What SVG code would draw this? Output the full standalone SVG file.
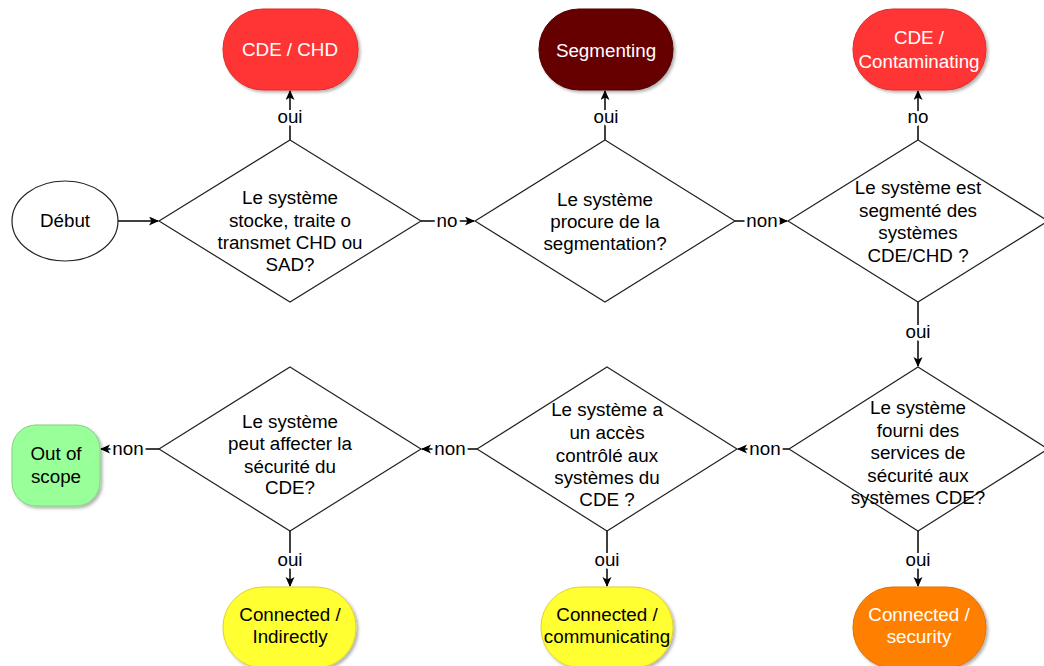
<svg xmlns="http://www.w3.org/2000/svg" width="1044" height="666" viewBox="0 0 1044 666">
<style>
text{font-family:"Liberation Sans",Arial,sans-serif;font-size:18.8px;text-anchor:middle;fill:#000}
.w{fill:#fff}
.dia{fill:#fff;stroke:#222;stroke-width:1.2}
.edge{fill:none;stroke:#000;stroke-width:1.5}
.lbl{stroke:#fff;stroke-width:6;paint-order:stroke;stroke-linejoin:round}
</style>
<defs>
<filter id="sh" x="-20%" y="-20%" width="140%" height="140%">
<feDropShadow dx="2" dy="2" stdDeviation="1.5" flood-color="#000" flood-opacity="0.3"/>
</filter>
<marker id="arr" markerWidth="11" markerHeight="10" refX="9" refY="4.5" orient="auto" markerUnits="userSpaceOnUse">
<path d="M0,0 L10,4.5 L0,9 L2.5,4.5 z" fill="#000"/>
</marker>
</defs>

<g id="connectors">
<line class="edge" x1="118" y1="221" x2="158" y2="221" marker-end="url(#arr)"/>
<line class="edge" x1="290" y1="140" x2="290" y2="91" marker-end="url(#arr)"/>
<line class="edge" x1="421" y1="221" x2="474" y2="221" marker-end="url(#arr)"/>
<line class="edge" x1="605" y1="140" x2="605" y2="91" marker-end="url(#arr)"/>
<line class="edge" x1="735" y1="221" x2="787" y2="221" marker-end="url(#arr)"/>
<line class="edge" x1="918" y1="140" x2="918" y2="91" marker-end="url(#arr)"/>
<line class="edge" x1="918" y1="302" x2="918" y2="366" marker-end="url(#arr)"/>
<line class="edge" x1="789" y1="449" x2="738" y2="449" marker-end="url(#arr)"/>
<line class="edge" x1="477" y1="449" x2="422" y2="449" marker-end="url(#arr)"/>
<line class="edge" x1="159" y1="449" x2="101" y2="449" marker-end="url(#arr)"/>
<line class="edge" x1="290" y1="531" x2="290" y2="586" marker-end="url(#arr)"/>
<line class="edge" x1="607" y1="531" x2="607" y2="586" marker-end="url(#arr)"/>
<line class="edge" x1="918" y1="531" x2="918" y2="586" marker-end="url(#arr)"/>
<text class="lbl" x="290" y="123">oui</text>
<text class="lbl" x="447" y="227">no</text>
<text class="lbl" x="606" y="123">oui</text>
<text class="lbl" x="762" y="227">non</text>
<text class="lbl" x="918" y="123">no</text>
<text class="lbl" x="918" y="338">oui</text>
<text class="lbl" x="765" y="455">non</text>
<text class="lbl" x="450" y="455">non</text>
<text class="lbl" x="128" y="455">non</text>
<text class="lbl" x="290" y="566">oui</text>
<text class="lbl" x="607" y="566">oui</text>
<text class="lbl" x="918" y="566">oui</text>
</g>

<g id="debut">
<ellipse cx="65" cy="221" rx="53" ry="40" fill="#fff" stroke="#222" stroke-width="1.2"/>
<text x="65" y="227">Début</text>
</g>

<g id="cde-chd">
<rect x="223" y="9" width="135" height="81" rx="40" ry="40" fill="#FF3535" stroke="#e02a2a" filter="url(#sh)"/>
<text class="w" x="290" y="56">CDE / CHD</text>
</g>

<g id="segmenting">
<rect x="539" y="9" width="134" height="81" rx="40" ry="40" fill="#660000" stroke="#520000" filter="url(#sh)"/>
<text class="w" x="606" y="57">Segmenting</text>
</g>

<g id="cde-contaminating">
<rect x="853" y="9" width="133" height="81" rx="40" ry="40" fill="#FF3535" stroke="#e02a2a" filter="url(#sh)"/>
<text class="w" x="919" y="44">CDE /</text>
<text class="w" x="919" y="68">Contaminating</text>
</g>

<g id="d1">
<polygon class="dia" points="290,140 421,221 290,302 159,221"/>
<text x="290" y="204">Le système</text>
<text x="290" y="227">stocke, traite o</text>
<text x="290" y="249">transmet CHD ou</text>
<text x="290" y="271">SAD?</text>
</g>

<g id="d2">
<polygon class="dia" points="605,140 735,221 605,302 475,221"/>
<text x="605" y="206">Le système</text>
<text x="605" y="228">procure de la</text>
<text x="605" y="250">segmentation?</text>
</g>

<g id="d3">
<polygon class="dia" points="918,140 1048,221 918,302 788,221"/>
<text x="918" y="194">Le système est</text>
<text x="918" y="217">segmenté des</text>
<text x="918" y="239">systèmes</text>
<text x="918" y="262">CDE/CHD ?</text>
</g>

<g id="d4">
<polygon class="dia" points="918,367 1048,449 918,531 789,449"/>
<text x="918" y="414">Le système</text>
<text x="918" y="437">fourni des</text>
<text x="918" y="459">services de</text>
<text x="918" y="482">sécurité aux</text>
<text x="918" y="504">systèmes CDE?</text>
</g>

<g id="d5">
<polygon class="dia" points="607,367 737,449 607,531 477,449"/>
<text x="607" y="416">Le système a</text>
<text x="607" y="439">un accès</text>
<text x="607" y="462">contrôlé aux</text>
<text x="607" y="484">systèmes du</text>
<text x="607" y="506">CDE ?</text>
</g>

<g id="d6">
<polygon class="dia" points="290,367 421,449 290,531 159,449"/>
<text x="290" y="428">Le système</text>
<text x="290" y="450">peut affecter la</text>
<text x="290" y="473">sécurité du</text>
<text x="290" y="494">CDE?</text>
</g>

<g id="out-of-scope">
<rect x="12" y="425" width="88" height="81" rx="24" ry="24" fill="#99FF99" stroke="#7fd27f" filter="url(#sh)"/>
<text x="56" y="460">Out of</text>
<text x="56" y="483">scope</text>
</g>

<g id="connected-indirectly">
<rect x="223" y="587" width="133" height="81" rx="40" ry="40" fill="#FFFF33" stroke="#e0d22a" filter="url(#sh)"/>
<text x="290" y="621">Connected /</text>
<text x="290" y="643">Indirectly</text>
</g>

<g id="connected-communicating">
<rect x="541" y="587" width="132" height="81" rx="40" ry="40" fill="#FFFF33" stroke="#e0d22a" filter="url(#sh)"/>
<text x="607" y="621">Connected /</text>
<text x="607" y="643">communicating</text>
</g>

<g id="connected-security">
<rect x="853" y="587" width="133" height="81" rx="40" ry="40" fill="#FF8000" stroke="#e07000" filter="url(#sh)"/>
<text class="w" x="919" y="621">Connected /</text>
<text class="w" x="919" y="643">security</text>
</g>
</svg>
